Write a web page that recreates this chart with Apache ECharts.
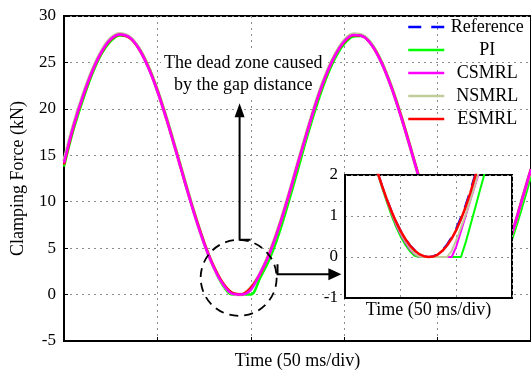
<!DOCTYPE html>
<html>
<head>
<meta charset="utf-8">
<script src="https://cdn.jsdelivr.net/npm/echarts@6/dist/echarts.min.js"></script>
<style>
  html, body { margin: 0; padding: 0; background: #fff; }
  #chart { width: 531px; height: 375px; }
</style>
</head>
<body>
<div id="chart"></div>
<script>
  // 主图：时间 (ms)，每 5 ms 一个点
  const mainTime = [0, 5, 10, 15, 20, 25, 30, 35, 40, 45, 50, 55, 60, 65, 70, 75, 80, 85, 90, 95,
    100, 105, 110, 115, 120, 125, 130, 135, 140, 145, 150, 155, 160, 165, 170, 175, 180, 185, 190, 195,
    200, 205, 210, 215, 220, 225, 230, 235, 240, 245, 250]

  const refMain = [14.3, 18.1, 21.3, 24.0, 26.1, 27.5, 28.0, 27.65, 26.5, 24.5, 21.9, 18.8, 15.4, 11.9, 8.56, 5.55, 3.05, 1.24, 0.21, 0.04,
    0.74, 2.25, 4.46, 7.24, 10.5, 14.0, 17.5, 20.7, 23.5, 25.7, 27.25, 27.95, 27.8, 26.8, 24.95, 22.45, 19.4, 16.1, 12.6, 9.21,
    6.11, 3.5, 1.54, 0.35, 0.0, 0.52, 1.88, 3.98, 6.71, 10.2, 13.6]
  const piMain = [13.8, 17.7, 20.9, 23.7, 25.9, 27.3, 27.9, 27.7, 26.6, 24.7, 22.1, 19.0, 15.6, 12.1, 8.7, 5.6, 3.0, 1.0, 0.0, 0.0,
    0.0, 1.8, 3.8, 6.5, 9.8, 13.3, 16.9, 20.2, 23.1, 25.4, 27.0, 27.8, 27.85, 26.9, 25.1, 22.6, 19.6, 16.2, 12.7, 9.3,
    6.1, 3.4, 1.3, 0.0, 0.0, 0.0, 1.5, 3.4, 6.1, 9.3, 12.8]
  const csmrlMain = [14.2, 18.1, 21.3, 24.0, 26.1, 27.5, 28.0, 27.7, 26.5, 24.5, 21.9, 18.8, 15.4, 11.9, 8.5, 5.5, 3.0, 1.15, 0.1, 0.0,
    0.5, 2.3, 4.4, 7.2, 10.5, 14.0, 17.4, 20.7, 23.5, 25.7, 27.25, 27.95, 27.8, 26.8, 24.95, 22.45, 19.4, 16.1, 12.6, 9.2,
    6.1, 3.5, 1.5, 0.3, 0.0, 0.0, 1.7, 3.9, 6.7, 10.1, 13.5]
  const nsmrlMain = [14.4, 18.2, 21.4, 24.1, 26.2, 27.6, 28.1, 27.75, 26.55, 24.6, 21.95, 18.85, 15.45, 11.95, 8.6, 5.55, 3.05, 1.2, 0.15, 0.0,
    0.75, 2.3, 4.5, 7.3, 10.55, 14.05, 17.5, 20.8, 23.6, 25.8, 27.35, 28.05, 27.9, 26.85, 25.0, 22.5, 19.5, 16.1, 12.6, 9.2,
    6.1, 3.5, 1.5, 0.3, 0.0, 0.4, 1.85, 4.0, 6.7, 10.1, 13.5]
  const esmrlMain = [14.0, 18.0, 21.2, 23.95, 26.05, 27.45, 27.98, 27.65, 26.5, 24.55, 21.95, 18.85, 15.45, 11.95, 8.6, 5.6, 3.1, 1.25, 0.2, 0.03,
    0.72, 2.22, 4.42, 7.2, 10.45, 13.95, 17.4, 20.65, 23.45, 25.7, 27.2, 27.92, 27.8, 26.8, 25.0, 22.5, 19.5, 16.15, 12.65, 9.25,
    6.15, 3.52, 1.55, 0.36, 0.01, 0.5, 1.85, 3.95, 6.68, 10.1, 13.5]

  // 放大图：死区附近，时间 (ms)，每 1 ms 一个点
  const insetTime = [6, 7, 8, 9, 10, 11, 12, 13, 14, 15, 16, 17, 18, 19, 20, 21, 22, 23, 24, 25, 26, 27, 28, 29, 30, 31]
  const refInset = [2.47, 2.09, 1.74, 1.42, 1.13, 0.87, 0.64, 0.45, 0.29, 0.17, 0.08, 0.02, 0.0, 0.02, 0.07, 0.17, 0.31, 0.49, 0.71, 0.97, 1.27, 1.62, 2.0, 2.42, 2.89, 3.4]
  const piInset = [2.45, 2.06, 1.69, 1.35, 1.02, 0.74, 0.5, 0.3, 0.14, 0.03, 0, 0, 0, 0, 0, 0, 0, 0, 0, 0, 0.35, 0.76, 1.17, 1.59, 2.0, 2.41]
  const csmrlInset = [2.46, 2.08, 1.72, 1.39, 1.08, 0.8, 0.56, 0.36, 0.19, 0.07, 0.01, 0, 0, 0, 0, 0, 0, 0, 0.26, 0.63, 1.0, 1.37, 1.74, 2.1, 2.48, 2.85]
  const nsmrlInset = [2.46, 2.08, 1.73, 1.41, 1.1, 0.83, 0.59, 0.39, 0.22, 0.09, 0.01, 0, 0, 0, 0, 0, 0, 0.15, 0.42, 0.72, 1.03, 1.38, 1.75, 2.15, 2.6, 3.05]
  const esmrlInset = [2.45, 2.07, 1.73, 1.41, 1.12, 0.86, 0.63, 0.44, 0.28, 0.16, 0.07, 0.02, 0.0, 0.01, 0.06, 0.15, 0.28, 0.45, 0.66, 0.92, 1.22, 1.56, 1.94, 2.36, 2.8, 3.3]

  const names = ['Reference', 'PI', 'CSMRL', 'NSMRL', 'ESMRL']
  const colors = {Reference: '#0000ff', PI: '#00ff00', CSMRL: '#ff00ff', NSMRL: '#c0cc9a', ESMRL: '#ff0000'}

  const font = "'Liberation Serif', 'Times New Roman', serif"
  const grid = {type: [2, 4], color: '#8c8c8c', width: 1}

  let pairs = (xs, ys) => xs.map((x, i) => [x, ys[i]])

  function mkSeries(name, xs, ys, idx, z, width) {
    return {
      name: name,
      type: 'line',
      xAxisIndex: idx,
      yAxisIndex: idx,
      data: pairs(xs, ys),
      symbol: 'none',
      smooth: idx === 0 ? 0.35 : false,
      z: z,
      animation: false,
      lineStyle: {
        color: colors[name],
        width: width,
        type: name === 'Reference' ? [13, 10] : 'solid'
      }
    }
  }

  let chart = echarts.init(document.getElementById('chart'))

  let option = {
    animation: false,
    backgroundColor: '#fff',
    textStyle: {fontFamily: font, color: '#000'},
    grid: [
      {left: 64, top: 16, width: 468, height: 325, show: true, borderColor: '#000', borderWidth: 2, backgroundColor: 'transparent'},
      {left: 345, top: 175, width: 167, height: 123, show: true, borderColor: '#000', borderWidth: 2, backgroundColor: '#fff', z: 5}
    ],
    legend: {
      data: names,
      orient: 'vertical',
      left: 402,
      top: 13,
      padding: 5,
      itemWidth: 36,
      itemHeight: 14,
      itemGap: 5,
      z: 8,
      // 只要线，不要中间的圆点
      itemStyle: {opacity: 0},
      lineStyle: {width: 2.5},
      formatter: n => `{c|${n}}`,
      textStyle: {
        fontFamily: font, fontSize: 18, color: '#000',
        rich: {c: {width: 76, align: 'center', fontFamily: font, fontSize: 18, color: '#000'}}
      }
    },
    xAxis: [
      {
        type: 'value', gridIndex: 0, min: 0, max: 250, interval: 50,
        name: 'Time (50 ms/div)', nameLocation: 'middle', nameGap: 11,
        nameTextStyle: {fontFamily: font, fontSize: 18, color: '#000'},
        axisLine: {onZero: false, lineStyle: {color: '#000', width: 2}},
        axisTick: {show: true, inside: true, length: 4, lineStyle: {color: '#000'}},
        axisLabel: {show: false},
        splitLine: {show: true, lineStyle: grid}
      },
      {
        type: 'value', gridIndex: 1, min: 0, max: 36, interval: 12, z: 6,
        name: 'Time (50 ms/div)', nameLocation: 'middle', nameGap: 3,
        nameTextStyle: {fontFamily: font, fontSize: 18, color: '#000'},
        axisLine: {onZero: false, lineStyle: {color: '#000', width: 2}},
        axisTick: {show: false},
        axisLabel: {show: false},
        splitLine: {show: true, lineStyle: grid}
      }
    ],
    yAxis: [
      {
        type: 'value', gridIndex: 0, min: -5, max: 30, interval: 5,
        name: 'Clamping Force (kN)', nameLocation: 'middle', nameGap: 37,
        nameTextStyle: {fontFamily: font, fontSize: 18, color: '#000'},
        axisLine: {show: true, onZero: false, lineStyle: {color: '#000', width: 2}},
        axisTick: {show: true, inside: true, length: 4, lineStyle: {color: '#000'}},
        axisLabel: {fontFamily: font, fontSize: 17, color: '#000', margin: 8},
        splitLine: {show: true, lineStyle: grid}
      },
      {
        type: 'value', gridIndex: 1, min: -1, max: 2, interval: 1, z: 6,
        axisLine: {show: true, onZero: false, lineStyle: {color: '#000', width: 2}},
        axisTick: {show: false},
        axisLabel: {fontFamily: font, fontSize: 17, color: '#000', margin: 7},
        splitLine: {show: true, lineStyle: grid}
      }
    ],
    series: [
      // 主图，CSMRL 画在最上面
      mkSeries('Reference', mainTime, refMain, 0, 2, 2),
      mkSeries('PI', mainTime, piMain, 0, 2, 2.5),
      mkSeries('NSMRL', mainTime, nsmrlMain, 0, 2, 3.5),
      mkSeries('ESMRL', mainTime, esmrlMain, 0, 2, 2.5),
      mkSeries('CSMRL', mainTime, csmrlMain, 0, 2, 2.5),
      // 放大图
      mkSeries('Reference', insetTime, refInset, 1, 7, 2),
      mkSeries('PI', insetTime, piInset, 1, 7, 2),
      mkSeries('CSMRL', insetTime, csmrlInset, 1, 7, 2),
      mkSeries('NSMRL', insetTime, nsmrlInset, 1, 7, 2),
      mkSeries('ESMRL', insetTime, esmrlInset, 1, 7, 2.5)
    ]
  }

  chart.setOption(option)

  // 注释：用主图的数据坐标定位
  let px = p => chart.convertToPixel({gridIndex: 0}, p)
  let center = px([93.5, 1.8])
  let upBase = px([94, 5.9]), upTip = px([94, 20.6])
  let rBase = px([114.3, 2.2]), rTip = px([148.5, 2.2])
  let txt = px([96, 23.7])

  chart.setOption({
    graphic: [
      {
        type: 'text', x: txt[0], y: txt[1], z: 1,
        style: {
          text: 'The dead zone caused\nby the gap distance',
          font: '18px ' + font, fill: '#000', align: 'center', verticalAlign: 'middle',
          lineHeight: 22, backgroundColor: '#fff', padding: [2, 3]
        }
      },
      {
        type: 'circle', z: 10, shape: {cx: center[0], cy: center[1], r: 38},
        style: {fill: 'none', stroke: '#000', lineWidth: 1.8, lineDash: [9, 6]}
      },
      {
        type: 'polyline', z: 10,
        shape: {points: [[upBase[0] + 11, upBase[1]], [upBase[0], upBase[1]], [upTip[0], upTip[1] + 12]]},
        style: {stroke: '#000', lineWidth: 2, fill: 'none'}
      },
      {
        type: 'polygon', z: 10,
        shape: {points: [[upTip[0], upTip[1]], [upTip[0] - 5, upTip[1] + 14], [upTip[0] + 5, upTip[1] + 14]]},
        style: {fill: '#000'}
      },
      {
        type: 'polyline', z: 10,
        shape: {points: [[rBase[0], rBase[1] - 10], [rBase[0], rBase[1]], [rTip[0] - 10, rTip[1]]]},
        style: {stroke: '#000', lineWidth: 2, fill: 'none'}
      },
      {
        type: 'polygon', z: 10,
        shape: {points: [[rTip[0], rTip[1]], [rTip[0] - 13, rTip[1] - 6], [rTip[0] - 13, rTip[1] + 6]]},
        style: {fill: '#000'}
      }
    ]
  })
</script>
</body>
</html>
